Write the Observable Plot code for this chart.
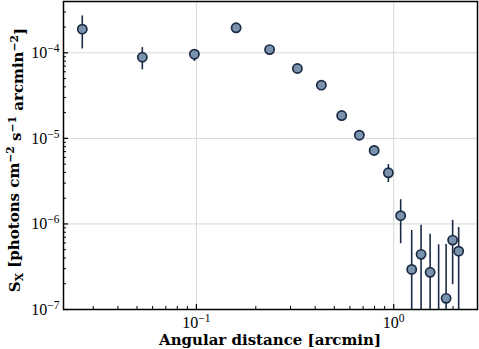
<!DOCTYPE html>
<html><head><meta charset="utf-8">
<script src="https://cdn.jsdelivr.net/npm/d3@7"></script>
<script src="https://cdn.jsdelivr.net/npm/@observablehq/plot@0.6"></script>
<style>body{margin:0;background:#fff} svg{display:block}</style>
</head><body><div id="chart"></div>
<script>
// Angular distance [arcmin]
const dist  = [0.0264, 0.0532, 0.0977, 0.159, 0.235, 0.325, 0.430, 0.545, 0.670, 0.796, 0.940, 1.085, 1.234, 1.377, 1.53, 1.69, 1.844, 1.99, 2.135];
// Surface brightness S_X
const sx    = [1.89e-4, 8.88e-5, 9.63e-5, 1.96e-4, 1.09e-4, 6.56e-5, 4.19e-5, 1.85e-5, 1.09e-5, 7.23e-6, 3.96e-6, 1.25e-6, 2.94e-7, 4.41e-7, 2.72e-7, 5.0e-8, 1.35e-7, 6.47e-7, 4.81e-7];
const errHi = [2.70e-4, 1.15e-4, 1.08e-4, 2.05e-4, 1.14e-4, 6.9e-5, 4.4e-5, 1.97e-5, 1.21e-5, 8.26e-6, 4.95e-6, 1.92e-6, 8.38e-7, 9.68e-7, 7.6e-7, 5.71e-7, 5.77e-7, 1.10e-6, 9.1e-7];
const errLo = [1.11e-4, 6.33e-5, 7.92e-5, 1.87e-4, 1.04e-4, 6.2e-5, 3.98e-5, 1.73e-5, 9.84e-6, 6.31e-6, 3.05e-6, 5.87e-7, 1e-8, 1e-8, 1e-8, 1e-8, 1e-8, 1.95e-7, 1e-8];

const xMajor = [0.1, 1];
const xMinor = [0.03, 0.04, 0.05, 0.06, 0.07, 0.08, 0.09, 0.2, 0.3, 0.4, 0.5, 0.6, 0.7, 0.8, 0.9, 2];
const yMajor = [1e-7, 1e-6, 1e-5, 1e-4];
const yMinor = [2e-7,3e-7,4e-7,5e-7,6e-7,7e-7,8e-7,9e-7,2e-6,3e-6,4e-6,5e-6,6e-6,7e-6,8e-6,9e-6,2e-5,3e-5,4e-5,5e-5,6e-5,7e-5,8e-5,9e-5,2e-4,3e-4];

const data = dist.map((d, i) => ({x: d, y: sx[i], lo: errLo[i], hi: errHi[i]}));
const fmt = d => `10^${Math.round(Math.log10(d))}`;
const navy = "#1b2b45";

const plot = Plot.plot({
  width: 479, height: 349,
  marginLeft: 63, marginTop: 1, marginRight: 2, marginBottom: 40,
  style: {fontFamily: "'Liberation Serif', serif", fontSize: "16px", color: "black", background: "white"},
  x: {type: "log", domain: [0.0212, 2.66], label: null},
  y: {type: "log", domain: [1e-7, 3.98e-4], label: null},
  marks: [
    Plot.gridX(xMajor, {stroke: "#d8d8d8", strokeOpacity: 1, strokeWidth: 1}),
    Plot.gridY(yMajor.slice(1), {stroke: "#d8d8d8", strokeOpacity: 1, strokeWidth: 1}),
    Plot.ruleX(data, {x: "x", y1: "lo", y2: "hi", stroke: navy, strokeWidth: 1.6, clip: true}),
    Plot.dot(data, {x: "x", y: "y", r: 4.6, fill: "#7b92ad", stroke: navy, strokeWidth: 1.7, clip: true}),
    Plot.axisX(xMajor, {tickSize: -5, tickPadding: 12, tickFormat: fmt, strokeWidth: 1.2}),
    Plot.axisX(xMinor, {tickSize: -3, tickFormat: () => "", strokeWidth: 1}),
    Plot.axisY(yMajor, {tickSize: -5, tickPadding: 9, tickFormat: fmt, strokeWidth: 1.2}),
    Plot.axisY(yMinor, {tickSize: -3, tickFormat: () => "", strokeWidth: 1}),
    Plot.frame({stroke: "black", strokeWidth: 1.5})
  ]
});

const svg = d3.select(plot);
svg.selectAll("text").each(function() {
  const t = this.textContent;
  const m = /^10\^(-?\d+)$/.exec(t);
  if (m) {
    const el = d3.select(this);
    el.text("10");
    el.append("tspan").attr("dy", "-0.5em").attr("font-size", "0.72em").text(m[1].replace("-", "\u2212"));
  }
});

// x label
svg.append("text")
  .attr("x", 270).attr("y", 345)
  .attr("text-anchor", "middle")
  .attr("font-family", "'DejaVu Serif', serif").attr("font-weight", "bold").attr("font-size", 15)
  .text("Angular distance [arcmin]");

// y label
const yl = svg.append("text")
  .attr("transform", "translate(20,160) rotate(-90)")
  .attr("text-anchor", "middle")
  .attr("font-family", "'DejaVu Serif', serif").attr("font-weight", "bold").attr("font-size", 15);
yl.append("tspan").text("S");
yl.append("tspan").attr("font-size", "0.72em").attr("dy", "0.25em").text("X");
yl.append("tspan").attr("dy", "-0.25em").text(" [photons cm");
yl.append("tspan").attr("font-size", "0.72em").attr("dy", "-0.5em").text("\u22122");
yl.append("tspan").attr("dy", "0.5em").text(" s");
yl.append("tspan").attr("font-size", "0.72em").attr("dy", "-0.5em").text("\u22121");
yl.append("tspan").attr("dy", "0.5em").text(" arcmin");
yl.append("tspan").attr("font-size", "0.72em").attr("dy", "-0.5em").text("\u22122");
yl.append("tspan").attr("dy", "0.5em").text("]");

document.getElementById("chart").append(plot);
</script>
</body></html>
